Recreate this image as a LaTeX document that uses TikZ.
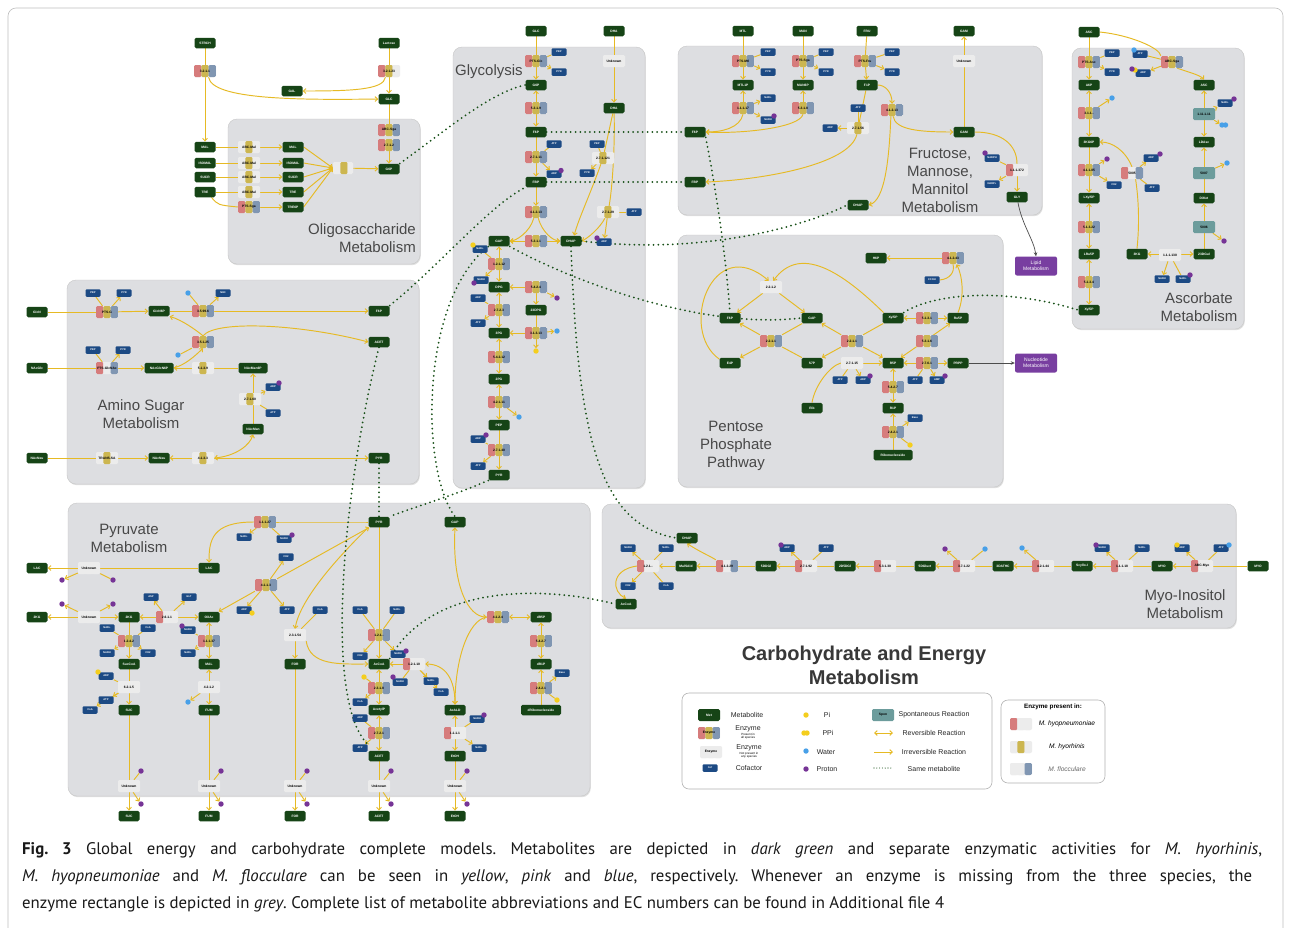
\documentclass[tikz,border=0pt]{standalone}
\usepackage{fontspec}
\setmainfont{Liberation Sans}
\newfontfamily\capfont{PT Sans}
\usetikzlibrary{arrows.meta,shadows}
\definecolor{metc}{RGB}{22,68,22}
\definecolor{cofc}{RGB}{28,74,132}
\definecolor{pkc}{RGB}{214,124,124}
\definecolor{ylc}{RGB}{204,182,80}
\definecolor{blc}{RGB}{128,150,178}
\definecolor{egc}{RGB}{236,236,236}
\definecolor{spc}{RGB}{108,156,156}
\definecolor{arc}{RGB}{230,186,36}
\definecolor{dotc}{RGB}{24,80,24}
\definecolor{panelc}{RGB}{221,222,225}
\definecolor{purc}{RGB}{118,52,150}
\definecolor{bluc}{RGB}{72,160,232}
\definecolor{yelc}{RGB}{244,206,30}
\definecolor{boxc}{RGB}{120,62,160}
\definecolor{titc}{RGB}{72,72,72}
\pgfdeclarelayer{panel}
\pgfdeclarelayer{edge}
\pgfsetlayers{panel,edge,main}
\newcommand\mf{\fontsize{3.3}{3.8}\selectfont\bfseries}
\newcommand\cf{\fontsize{2.6}{3}\selectfont\bfseries}
\newcommand\ttl{\fontsize{15}{18}\selectfont}
\tikzset{
  met/.style={fill=metc, rounded corners=1.6pt, minimum width=21pt, minimum height=10.5pt, inner sep=0.8pt, text=white, font=\mf},
  cof/.style={fill=cofc, rounded corners=1.2pt, minimum width=15pt, minimum height=7.5pt, inner sep=0.5pt, text=white, font=\cf},
  enzb/.style n args={3}{rounded corners=1.3pt, minimum width=22pt, minimum height=12pt, inner sep=0.5pt, font=\mf, text=black, fill=egc,
    path picture={
      \fill[#1] (path picture bounding box.south west) rectangle ([xshift=7.33pt]path picture bounding box.north west);
      \fill[#2] ([xshift=7.33pt]path picture bounding box.south west) rectangle ([xshift=14.67pt]path picture bounding box.north west);
      \fill[#3] ([xshift=14.67pt]path picture bounding box.south west) rectangle (path picture bounding box.north east);}},
  Epyb/.style={enzb={pkc}{ylc}{blc}},
  Epy/.style={enzb={pkc}{ylc}{egc}},
  Epb/.style={enzb={pkc}{egc}{blc}},
  Ep/.style={enzb={pkc}{egc}{egc}},
  Ey/.style={enzb={egc}{ylc}{egc}},
  Eg/.style={enzb={egc}{egc}{egc}},
  spon/.style={fill=spc, rounded corners=1.3pt, minimum width=22pt, minimum height=12pt, inner sep=0.5pt, font=\mf, text=black},
  pd/.style={circle, fill=purc, minimum size=5.4pt, inner sep=0pt},
  bd/.style={circle, fill=bluc, minimum size=5.4pt, inner sep=0pt},
  yd/.style={circle, fill=yelc, minimum size=5.4pt, inner sep=0pt},
  pbox/.style={fill=boxc, rounded corners=2pt, minimum width=42pt, minimum height=19pt, text=white, align=center, font=\fontsize{5}{5.8}\selectfont},
  panel/.style={fill=panelc, draw=gray!45, line width=0.4pt, rounded corners=9pt, drop shadow={opacity=0.25, shadow xshift=0.8pt, shadow yshift=-1.2pt}},
  ar/.style={draw=arc, line width=0.95pt, -{Straight Barb[length=2.6pt,width=4.8pt]}},
  rv/.style={draw=arc, line width=0.95pt, {Straight Barb[length=2.6pt,width=4.8pt]}-{Straight Barb[length=2.6pt,width=4.8pt]}},
  ln/.style={draw=arc, line width=0.95pt},
  sm/.style={draw=dotc, line width=2pt, dash pattern=on 0pt off 4.8pt, line cap=round},
  gar/.style={draw=gray!60!black, line width=0.7pt, -{Stealth[length=4pt,width=3.5pt]}},
  ptitle/.style={text=titc, font=\ttl, inner sep=0pt},
  lgt/.style={font=\fontsize{7}{8}\selectfont, text=black!85, inner sep=0pt},
  capt/.style={anchor=west, inner sep=0pt, font=\capfont\fontsize{16.8}{20}\selectfont\frenchspacing, text=black!90}
}
\begin{document}
\begin{tikzpicture}[x=1pt,y=-1pt]
\useasboundingbox (0,0) rectangle (1290,927);
\begin{pgfonlayer}{panel}
\fill[white] (0,0) rectangle (1290,927);
\draw[gray!50, line width=0.6pt, rounded corners=8pt] (8,8) rectangle (1283,960);
\path[panel] (228,119) rectangle (420,264);
\path[panel] (453,47) rectangle (645,488);
\path[panel] (678,46) rectangle (1042,215);
\path[panel] (1072,48) rectangle (1244,329);
\path[panel] (67,280) rectangle (419,484);
\path[panel] (678,235) rectangle (1003,487);
\path[panel] (68,503) rectangle (590,796);
\path[panel] (602,504) rectangle (1236,628);
\end{pgfonlayer}

% panel titles
\node[ptitle, anchor=east, align=right] at (416,238) {Oligosaccharide\\Metabolism};
\node[ptitle, anchor=west] at (455,72) {Glycolysis};
\node[ptitle, align=center] at (940,180) {Fructose,\\Mannose,\\Mannitol\\Metabolism};
\node[ptitle, align=center] at (1199,307) {Ascorbate\\Metabolism};
\node[ptitle, align=center] at (141,414) {Amino Sugar\\Metabolism};
\node[ptitle, align=center] at (736,446) {Pentose\\Phosphate\\Pathway};
\node[ptitle, align=center] at (129,538) {Pyruvate\\Metabolism};
\node[ptitle, align=center] at (1185,604) {Myo-Inositol\\Metabolism};
\node[text=black!78, font=\fontsize{20}{24}\selectfont\bfseries, align=center] at (864,665) {Carbohydrate and Energy\\Metabolism};

% ===== Oligosaccharide =====
\node[met] (o-strch) at (205,43) {STRCH};
\node[met] (o-lacto) at (389,43) {Lactose};
\node[Epyb] (o-e3211) at (205,71) {3.2.1.1};
\node[Epy] (o-e32123) at (389,71) {3.2.1.23};
\node[met] (o-gal) at (292,91) {GAL};
\node[met] (o-glc) at (389,99) {GLC};
\node[Epyb] (o-abc) at (389,130) {ABC-Sga};
\node[Epyb] (o-e2712) at (389,145) {2.7.1.2};
\node[met] (o-g6p) at (389,169) {G6P};
\node[met] (o-mal) at (205,147) {MAL};
\node[met] (o-isomal) at (205,163) {ISOMAL};
\node[met] (o-sucr) at (205,177) {SUCR};
\node[met] (o-tre) at (205,192) {TRE};
\node[Ey] (o-m1) at (249,147) {ABC-Mal};
\node[Ey] (o-m2) at (249,163) {ABC-Mal};
\node[Ey] (o-m3) at (249,177) {ABC-Mal};
\node[Ey] (o-m4) at (249,192) {ABC-Mal};
\node[Epyb] (o-pts) at (249,207) {PTS-Sga};
\node[met] (o-mal2) at (293,147) {MAL};
\node[met] (o-isomal2) at (293,163) {ISOMAL};
\node[met] (o-sucr2) at (293,177) {SUCR};
\node[met] (o-tre2) at (293,192) {TRE};
\node[met] (o-tre6p) at (293,207) {TRE6P};
\node[Ey, minimum width=20pt] (o-u) at (343,168) {};

% ===== Glycolysis =====
\node[met] (g-glc) at (536,31) {GLC};
\node[met] (g-dha0) at (614,31) {DHA};
\node[Epyb] (g-pts) at (536,61) {PTS-Glc};
\node[cof] (g-pep1) at (559,52) {PEP};
\node[cof] (g-pyr1) at (559,72) {PYR};
\node[met] (g-g6p) at (536,85) {G6P};
\node[Epyb] (g-e5319) at (536,108) {5.3.1.9};
\node[met] (g-f6p) at (536,132) {F6P};
\node[cof] (g-atp1) at (554,144) {ATP};
\node[Epyb] (g-e27111) at (536,157) {2.7.1.11};
\node[cof] (g-adp1) at (554,174) {ADP};
\node[pd] (g-d1) at (561,170.5) {};
\node[met] (g-fbp) at (536,182) {FBP};
\node[Epyb] (g-e41213) at (536,212) {4.1.2.13};
\node[met] (g-gap) at (499,241) {GAP};
\node[Epyb] (g-e5311) at (536,241) {5.3.1.1};
\node[met] (g-dhap) at (571,241) {DHAP};
\node[Eg] (g-unk) at (614,61) {Unknown};
\node[met] (g-dha) at (614,108) {DHA};
\node[cof] (g-pep2) at (597,144) {PEP};
\node[Ey] (g-e27121) at (603,158) {2.7.1.121};
\node[cof] (g-pyr2) at (587,173) {PYR};
\node[Ey] (g-e27129) at (608,212) {2.7.1.29};
\node[cof] (g-atp2) at (634,212) {ATP};
\node[cof] (g-adp2) at (604,242) {ADP};
\node[pd] (g-d2) at (597,238) {};
\node[cof] (g-nad1) at (480,249) {NAD+};
\node[yd] (g-d3) at (473,245) {};
\node[Epyb] (g-e12112) at (499,264) {1.2.1.12};
\node[cof] (g-nadh1) at (481,280) {NADH};
\node[pd] (g-d4) at (474,283) {};
\node[met] (g-dpg) at (499,287) {DPG};
\node[Epyb] (g-e5424) at (536,287) {5.4.2.4};
\node[cof] (g-adp3) at (478,298) {ADP};
\node[pd] (g-d5) at (557,298) {};
\node[Epyb] (g-e2723) at (499,310) {2.7.2.3};
\node[met] (g-dpg23) at (536,310) {23DPG};
\node[cof] (g-atp3) at (478,323) {ATP};
\node[met] (g-pg3) at (499,333) {3PG};
\node[Epyb] (g-e31313) at (536,333) {3.1.3.13};
\node[bd] (g-d6) at (557,331) {};
\node[yd] (g-d7) at (536,351) {};
\node[Epyb] (g-e54212) at (499,357) {5.4.2.12};
\node[met] (g-pg2) at (499,379) {2PG};
\node[Epyb] (g-e42111) at (499,402) {4.2.1.11};
\node[bd] (g-d8) at (519,417) {};
\node[met] (g-pep) at (499,425) {PEP};
\node[cof] (g-adp4) at (478,439) {ADP};
\node[pd] (g-d9) at (486,435) {};
\node[Epyb] (g-e27140) at (499,450) {2.7.1.40};
\node[cof] (g-atp4) at (478,466) {ATP};
\node[met] (g-pyr) at (499,475) {PYR};

% ===== Fructose, Mannose, Mannitol =====
\node[met] (f-mtl) at (743,31) {MTL};
\node[met] (f-man) at (803,31) {MAN};
\node[met] (f-fru) at (867,31) {FRU};
\node[met] (f-gam0) at (964,31) {GAM};
\node[Epyb] (f-ptsm) at (743,61) {PTS-Mtl};
\node[cof] (f-pep1) at (768,52) {PEP};
\node[cof] (f-pyr1) at (768,72) {PYR};
\node[Epyb] (f-ptss) at (803,61) {PTS-Sga};
\node[cof] (f-pep2) at (826,52) {PEP};
\node[cof] (f-pyr2) at (826,72) {PYR};
\node[Epyb] (f-ptsf) at (865,61) {PTS-Fru};
\node[cof] (f-pep3) at (892,52) {PEP};
\node[cof] (f-pyr3) at (892,72) {PYR};
\node[Eg] (f-unk) at (964,61) {Unknown};
\node[met] (f-mtl1p) at (743,85) {MTL1P};
\node[met] (f-man6p) at (803,85) {MAN6P};
\node[met] (f-f1p) at (867,85) {F1P};
\node[cof] (f-nad) at (768,98) {NAD+};
\node[Epyb] (f-e11117) at (743,108) {1.1.1.17};
\node[cof] (f-nadh) at (768,120) {NADH};
\node[pd] (f-d1) at (774,116) {};
\node[Epyb] (f-e5318) at (803,108) {5.3.1.8};
\node[cof] (f-atp) at (858,108) {ATP};
\node[Epyb] (f-e41213) at (892,110) {4.1.2.13};
\node[cof] (f-adp) at (830,128) {ADP};
\node[Ey] (f-e27156) at (858,128) {2.7.1.56};
\node[met] (f-f6p) at (695,132) {F6P};
\node[met] (f-gam) at (964,132) {GAM};
\node[cof] (f-nadph) at (992,158) {NADPH};
\node[pd] (f-d2) at (985,153) {};
\node[Ep] (f-e1372) at (1017,170) {1.1.1.372};
\node[cof] (f-nadp) at (992,184) {NADP+};
\node[met] (f-gly) at (1017,197) {GLY};
\node[met] (f-fbp) at (695,182) {FBP};
\node[met] (f-dhap) at (858,205) {DHAP};
\node[pbox] (lipid) at (1036,266) {Lipid\\Metabolism};

% ===== Ascorbate =====
\node[met] (a-asc0) at (1089,32) {ASC};
\node[Epyb] (a-ptsa) at (1089,62) {PTS-Asc};
\node[cof] (a-pep) at (1112,53) {PEP};
\node[cof] (a-pyr) at (1112,72) {PYR};
\node[cof] (a-atp) at (1140,54) {ATP};
\node[bd] (a-d1) at (1134,50) {};
\node[Epyb] (a-abc) at (1172,62) {ABC-Sga};
\node[cof] (a-adp) at (1143,73) {ADP};
\node[yd] (a-d2b) at (1135,70) {};
\node[pd] (a-d2) at (1132,69) {};
\node[met] (a-a6p) at (1089,85) {A6P};
\node[met] (a-asc) at (1204,85) {ASC};
\node[bd] (a-d3) at (1112,98) {};
\node[Epyb] (a-e311) at (1089,113) {3.1.1.-};
\node[cof] (a-nad) at (1225,103) {NAD+};
\node[pd] (a-d4) at (1234,99) {};
\node[spon] (a-e111111) at (1204,114) {1.11.1.11};
\node[bd] (a-d5) at (1222,125) {};
\node[bd] (a-d5b) at (1225.5,125) {};
\node[met] (a-kg6p) at (1089,142) {3KG6P};
\node[met] (a-ldasc) at (1204,142) {LDAsc};
\node[pd] (a-d6) at (1107,159) {};
\node[cof] (a-adp2) at (1151,158) {ADP};
\node[pd] (a-d7) at (1160,154) {};
\node[Epyb] (a-e41185) at (1089,170) {4.1.1.85};
\node[Epb] (a-e5005) at (1132,173) {5005};
\node[spon] (a-e5007) at (1204,173) {5007};
\node[bd] (a-d8) at (1227,163) {};
\node[cof] (a-co2) at (1114,185) {CO2};
\node[cof] (a-atp2) at (1152,188) {ATP};
\node[met] (a-diket) at (1204,198) {DiKet};
\node[met] (a-lxyl) at (1089,198) {LXyl5P};
\node[Epyb] (a-e51322) at (1089,227) {5.1.3.22};
\node[spon] (a-e5006) at (1204,227) {5006};
\node[pd] (a-d9) at (1224,241) {};
\node[met] (a-lrul) at (1089,254) {LRu5P};
\node[met] (a-kg) at (1137,254) {3KG};
\node[Eg] (a-e11130) at (1170,255) {1.1.1.130};
\node[met] (a-dgul) at (1204,254) {23DGul};
\node[cof] (a-nadh) at (1162,279) {NADH};
\node[cof] (a-nad2) at (1183,279) {NAD+};
\node[pd] (a-d10) at (1190,275) {};
\node[Epyb] (a-e5134) at (1089,282) {5.1.3.4};
\node[met] (a-xyl) at (1089,310) {Xyl5P};

% ===== Amino sugar =====
\node[met] (m-glcn) at (37,312) {GlcN};
\node[Epyb] (m-ptsg) at (107,312) {PTS-G};
\node[cof] (m-pep1) at (93,293) {PEP};
\node[cof] (m-pyr1) at (124,293) {PYR};
\node[met] (m-glcn6p) at (159,311) {GlcN6P};
\node[Epyb] (m-e35996) at (203,311) {3.5.99.6};
\node[bd] (m-d1) at (188,293) {};
\node[cof] (m-nh3) at (223,293) {NH3};
\node[met] (m-f6p) at (379,311) {F6P};
\node[Epyb] (m-e35125) at (203,342) {3.5.1.25};
\node[bd] (m-d2) at (178,355) {};
\node[met] (m-acet) at (379,342) {ACET};
\node[met] (m-nacglc) at (37,368) {NAcGlc};
\node[Epb] (m-ptsn) at (107,368) {PTS-GlcNAc};
\node[cof] (m-pep2) at (93,350) {PEP};
\node[cof] (m-pyr2) at (123,350) {PYR};
\node[met, minimum width=29pt] (m-nacglcn6p) at (159,368) {NAcGlcN6P};
\node[Ey] (m-e5139) at (203,368) {5.1.3.9};
\node[met, minimum width=29pt] (m-nacman6p) at (253,368) {NAcMan6P};
\node[cof] (m-adp) at (273,387) {ADP};
\node[pd] (m-d3) at (279,383) {};
\node[Ey] (m-e27160) at (250,399) {2.7.1.60};
\node[cof] (m-atp) at (273,413) {ATP};
\node[met] (m-nacman) at (253,429) {NAcMan};
\node[met] (m-nacneu0) at (37,458) {NAcNeu};
\node[Ey] (m-trans) at (107,458) {TRANS-SA};
\node[met] (m-nacneu) at (159,458) {NAcNeu};
\node[Ey] (m-e4133) at (203,458) {4.1.3.3};
\node[met] (m-pyr) at (379,458) {PYR};

% ===== Pentose phosphate =====
\node[met] (p-h6p) at (876,258) {H6P};
\node[Epyb] (p-e41243) at (953,258) {4.1.2.43};
\node[cof] (p-fcoh) at (932,280) {FCOH};
\node[Eg] (p-e2212) at (771,287) {2.2.1.2};
\node[met] (p-f6p) at (730,318) {F6P};
\node[met] (p-gap) at (812,318) {GAP};
\node[met] (p-xyl) at (893,318) {Xyl5P};
\node[Epyb] (p-e5131) at (927,318) {5.1.3.1};
\node[met] (p-ru5p) at (958,318) {Ru5P};
\node[Epyb] (p-e2211a) at (771,341) {2.2.1.1};
\node[Epyb] (p-e2211b) at (852,341) {2.2.1.1};
\node[Epyb] (p-e5316) at (927,341) {5.3.1.6};
\node[met] (p-e4p) at (730,363) {E4P};
\node[met] (p-s7p) at (812,363) {S7P};
\node[Eg] (p-e27115) at (852,363) {2.7.1.15};
\node[met] (p-r5p) at (893,363) {R5P};
\node[Epyb] (p-e2761) at (927,363) {2.7.6.1};
\node[met] (p-prpp) at (958,363) {PRPP};
\node[pbox] (nuc) at (1036,363) {Nucleotide\\Metabolism};
\node[cof] (p-atp) at (840,380) {ATP};
\node[cof] (p-adp) at (863,380) {ADP};
\node[pd] (p-d1) at (870,376) {};
\node[cof] (p-atp2) at (915,380) {ATP};
\node[cof] (p-amp) at (937,380) {AMP};
\node[pd] (p-d2) at (945,376) {};
\node[Epyb] (p-e5427) at (893,387) {5.4.2.7};
\node[met] (p-rib) at (812,408) {Rib};
\node[met] (p-r1p) at (893,408) {R1P};
\node[cof] (p-base) at (915,418) {Base};
\node[Epyb] (p-e2421) at (893,432) {2.4.2.1};
\node[yd] (p-d3) at (910,445) {};
\node[met, minimum width=39pt] (p-ribn) at (893,455) {Ribonucleoside};

% ===== Pyruvate =====
\node[met] (y-lacx) at (37,568) {LAC};
\node[Eg] (y-unk1) at (89,568) {Unknown};
\node[pd] (y-d1) at (62,580) {};
\node[pd] (y-d2) at (113,580) {};
\node[met] (y-lac) at (209,568) {LAC};
\node[Epyb] (y-e11127) at (265,522) {1.1.1.27};
\node[cof] (y-nad1) at (244,537) {NAD+};
\node[cof] (y-nadh1) at (284,539) {NADH};
\node[pd] (y-d3) at (292,535) {};
\node[cof] (y-co2a) at (286,557) {CO2};
\node[Epyb] (y-e4113) at (266,585) {4.1.1.3};
\node[cof] (y-adp1) at (244,610) {ADP};
\node[yd] (y-d4) at (252,613) {};
\node[cof] (y-atp1) at (287,610) {ATP};
\node[met] (y-kgx) at (37,617) {2KG};
\node[Eg] (y-unk2) at (89,617) {Unknown};
\node[pd] (y-d5) at (62,604) {};
\node[pd] (y-d6) at (113,604) {};
\node[met] (y-kg) at (129,617) {2KG};
\node[cof] (y-asp) at (151,597) {ASP};
\node[cof] (y-glt) at (189,597) {GLT};
\node[Ep] (y-e2611) at (167,617) {2.6.1.1};
\node[met] (y-oxac) at (209,617) {OXAc};
\node[cof] (y-nad2) at (107,628) {NAD+};
\node[cof] (y-coa1) at (148,628) {CoA};
\node[cof] (y-nadh2) at (188,630) {NADH};
\node[pd] (y-d7) at (182,626) {};
\node[Epyb] (y-e1242) at (129,641) {1.2.4.2};
\node[Epyb] (y-e11137) at (209,641) {1.1.1.37};
\node[cof] (y-nadh3) at (107,653) {NADH};
\node[cof] (y-co2b) at (148,653) {CO2};
\node[cof] (y-nad3) at (188,653) {NAD+};
\node[met] (y-succoa) at (129,664) {SucCoA};
\node[met] (y-mal) at (209,664) {MAL};
\node[cof] (y-adp2) at (106,676) {ADP};
\node[yd] (y-d8) at (98,672) {};
\node[Eg] (y-e6215) at (129,687) {6.2.1.5};
\node[Eg] (y-e4212) at (209,687) {4.2.1.2};
\node[cof] (y-atp2) at (106,700) {ATP};
\node[cof] (y-coa2) at (90,710) {CoA};
\node[bd] (y-d9) at (188,702) {};
\node[met] (y-suc) at (129,710) {SUC};
\node[met] (y-fum) at (209,710) {FUM};
\node[Eg] (y-unk3) at (129,786) {Unknown};
\node[pd] (y-d10) at (141,771) {};
\node[pd] (y-d11) at (141,804) {};
\node[Eg] (y-unk4) at (209,786) {Unknown};
\node[pd] (y-d12) at (221,771) {};
\node[pd] (y-d13) at (221,804) {};
\node[met] (y-sucx) at (129,816) {SUC};
\node[met] (y-fumx) at (209,816) {FUM};
\node[Eg] (y-e23154) at (295,635) {2.3.1.54};
\node[met] (y-for) at (295,664) {FOR};
\node[Eg] (y-unk5) at (295,786) {Unknown};
\node[pd] (y-d14) at (307,771) {};
\node[pd] (y-d15) at (307,804) {};
\node[met] (y-forx) at (295,816) {FOR};
\node[met] (y-pyr) at (379,522) {PYR};
\node[met] (y-gap) at (455,522) {GAP};
\node[cof] (y-coa3) at (320,610) {CoA};
\node[cof] (y-coa4) at (360,610) {CoA};
\node[cof] (y-nad4) at (397,610) {NAD+};
\node[Epyb] (y-e121) at (379,635) {1.2.1.-};
\node[cof] (y-co2c) at (360,656) {CO2};
\node[cof] (y-nadh4) at (398,654) {NADH};
\node[pd] (y-d16) at (406,651) {};
\node[met] (y-accoa) at (379,664) {AcCoA};
\node[Ep] (y-e12110) at (414,664) {1.2.1.10};
\node[cof] (y-nadh5) at (400,682) {NADH};
\node[pd] (y-d17) at (393,677) {};
\node[cof] (y-nad5) at (431,681) {NAD+};
\node[cof] (y-coa5) at (441,692) {CoA};
\node[yd] (y-d18) at (364,677) {};
\node[Epyb] (y-e2318) at (379,688) {2.3.1.8};
\node[cof] (y-coa6) at (360,702) {CoA};
\node[met] (y-acetp) at (379,710) {AcetylP};
\node[cof] (y-adp3) at (360,718) {ADP};
\node[Epyb] (y-e2721) at (379,733) {2.7.2.1};
\node[cof] (y-atp3) at (360,748) {ATP};
\node[met] (y-acet) at (379,756) {ACET};
\node[met] (y-acald) at (455,710) {AcALD};
\node[cof] (y-nadh6) at (477,719) {NADH};
\node[pd] (y-d19) at (484,715) {};
\node[Ep] (y-e1111) at (455,733) {1.1.1.1};
\node[cof] (y-nad6) at (479,748) {NAD+};
\node[met] (y-etoh) at (455,756) {EtOH};
\node[Eg] (y-unk6) at (379,786) {Unknown};
\node[pd] (y-d20) at (391,771) {};
\node[pd] (y-d21) at (391,804) {};
\node[Eg] (y-unk7) at (455,786) {Unknown};
\node[pd] (y-d22) at (467,771) {};
\node[pd] (y-d23) at (467,804) {};
\node[met] (y-acetx) at (379,816) {ACET};
\node[met] (y-etohx) at (455,816) {EtOH};
\node[Epyb] (y-e4124) at (498,617) {4.1.2.4};
\node[met] (y-dr5p) at (541,617) {dR5P};
\node[Epyb] (y-e5427) at (541,641) {5.4.2.7};
\node[met] (y-dr1p) at (541,664) {dR1P};
\node[cof] (y-base) at (562,673) {Base};
\node[Epyb] (y-e2421) at (541,688) {2.4.2.1};
\node[yd] (y-d24) at (557,700) {};
\node[met, minimum width=40pt] (y-drib) at (541,710) {dRibonucleoside};

% ===== Myo-inositol =====
\node[met] (i-dhap) at (687,538) {DHAP};
\node[cof] (i-nadh) at (628,548) {NADH};
\node[cof] (i-nad) at (666,548) {NAD+};
\node[Ep] (i-e121) at (648,566) {1.2.1.-};
\node[met] (i-malsald) at (686,566) {MalSAld};
\node[Epb] (i-e41229) at (727,566) {4.1.2.29};
\node[met] (i-ddgl) at (766,566) {5DDGl};
\node[cof] (i-adp) at (787,548) {ADP};
\node[pd] (i-d1) at (781,545) {};
\node[cof] (i-atp) at (826,548) {ATP};
\node[Ep] (i-e27192) at (806,566) {2.7.1.92};
\node[met] (i-d5dgl) at (845,566) {2D5DGl};
\node[Ep] (i-e53130) at (885,566) {5.3.1.30};
\node[met] (i-dgluct) at (925,566) {5DGluct};
\node[pd] (i-d2) at (945,549) {};
\node[bd] (i-d3) at (985,549) {};
\node[Ep] (i-e37122) at (964,566) {3.7.1.22};
\node[met] (i-dathc) at (1003,566) {3DATHC};
\node[bd] (i-d4) at (1022,548) {};
\node[Ep] (i-e42144) at (1043,566) {4.2.1.44};
\node[met] (i-scyllo) at (1082,566) {Scyllo-I};
\node[cof] (i-nadh2) at (1102,548) {NADH};
\node[pd] (i-d5) at (1096,545) {};
\node[cof] (i-nad2) at (1142,548) {NAD+};
\node[Ep] (i-e11118) at (1122,566) {1.1.1.18};
\node[met] (i-myo) at (1162,566) {MYO};
\node[cof] (i-adp2) at (1182,548) {ADP};
\node[yd] (i-d6) at (1177,545) {};
\node[cof] (i-atp2) at (1221,548) {ATP};
\node[bd] (i-d7) at (1229,545) {};
\node[Ep] (i-abc) at (1202,566) {ABC-Myo};
\node[met] (i-myox) at (1258,566) {MYO};
\node[cof] (i-co2) at (628,586) {CO2};
\node[cof] (i-coa) at (666,586) {CoA};
\node[met] (i-accoa) at (626,604) {AcCoA};

% ===== Legend =====
\draw[gray!60, line width=0.6pt, rounded corners=7pt, fill=white] (682,693) rectangle (992,789);
\draw[gray!60, line width=0.6pt, rounded corners=7pt, fill=white] (1001,700) rectangle (1105,783);
\node[met, minimum width=22pt, minimum height=12pt] (l-met) at (709,715) {Met};
\node[lgt] at (747,715) {Metabolite};
\node[Epyb] (l-enz) at (709,733) {Enzyme};
\node[lgt] at (748,729) {Enzyme};
\node[font=\fontsize{3}{3.4}\selectfont, align=center, inner sep=0pt] at (748,736.5) {Present in\\all species};
\node[Eg] (l-enzg) at (711,752) {Enzyme};
\node[lgt] at (749,748) {Enzyme};
\node[font=\fontsize{3}{3.4}\selectfont, align=center, inner sep=0pt] at (749,755.5) {Not present in\\any species};
\node[cof] (l-cof) at (710,768) {Cof};
\node[lgt] at (749,768) {Cofactor};
\node[yd] (l-pi) at (806,715) {};
\node[lgt] at (827,715) {Pi};
\node[yd] (l-ppi) at (804,733) {};
\node[yd] (l-ppi2) at (807,733) {};
\node[lgt] at (828,733) {PPi};
\node[bd] (l-w) at (806,751) {};
\node[lgt] at (826,752) {Water};
\node[pd] (l-pr) at (806,769) {};
\node[lgt] at (827,769) {Proton};
\node[spon] (l-spon) at (883,715) {Spon};
\node[lgt] at (934,715) {Spontaneous Reaction};
\coordinate (l-r1) at (874,733); \coordinate (l-r2) at (893,733);
\coordinate (l-i1) at (874,752); \coordinate (l-i2) at (893,752);
\coordinate (l-s1) at (874,768); \coordinate (l-s2) at (893,768);
\draw[rv] (l-r1) -- (l-r2);
\draw[ar] (l-i1) -- (l-i2);
\draw[draw=dotc, line width=1.1pt, dash pattern=on 0pt off 2.8pt, line cap=round] (l-s1) -- (l-s2);
\node[lgt] at (934,733) {Reversible Reaction};
\node[lgt] at (934,752) {Irreversible Reaction};
\node[lgt] at (934,769) {Same metabolite};
\node[font=\fontsize{6.3}{7}\selectfont\bfseries, inner sep=0pt] at (1053,707) {Enzyme present in:};
\node[Ep] (l-s-p) at (1021,724) {};
\node[Ey] (l-s-y) at (1021,747) {};
\node[enzb={egc}{egc}{blc}] (l-s-b) at (1021,769) {};
\node[font=\fontsize{6.6}{7.5}\selectfont\itshape, inner sep=0pt] at (1067,724) {M. hyopneumoniae};
\node[font=\fontsize{6.6}{7.5}\selectfont\itshape, inner sep=0pt] at (1067,747) {M. hyorhinis};
\node[font=\fontsize{6.6}{7.5}\selectfont\itshape, inner sep=0pt, text=black!60] at (1067,769) {M. flocculare};

% ===== Caption =====
\node[capt] at (22,850) {\makebox[1240pt][s]{\textbf{Fig. 3} Global energy and carbohydrate complete models. Metabolites are depicted in \textit{dark green} and separate enzymatic activities for \textit{M. hyorhinis},}};
\node[capt] at (22,877) {\makebox[1230pt][s]{\textit{M. hyopneumoniae} and \textit{M. flocculare} can be seen in \textit{yellow}, \textit{pink} and \textit{blue}, respectively. Whenever an enzyme is missing from the three species, the}};
\node[capt] at (22,904) {enzyme rectangle is depicted in \textit{grey}. Complete list of metabolite abbreviations and EC numbers can be found in Additional file 4};

% ===== Edges =====
\begin{pgfonlayer}{edge}
% oligo
\draw[ln] (o-strch) -- (o-e3211);
\draw[ar] (o-e3211) -- (o-mal);
\draw[ar] (o-e3211.-60) .. controls (212,100) and (300,100) .. (o-glc.west);
\draw[ln] (o-lacto) -- (o-e32123);
\draw[ar] (o-e32123) -- (o-glc);
\draw[ar] (o-e32123.-120) .. controls (384,90) and (350,91) .. (o-gal.east);
\draw[ln] (o-glc) -- (o-abc);
\draw[ar] (o-e2712) -- (o-g6p);
\draw[ln] (o-mal) -- (o-m1); \draw[ar] (o-m1) -- (o-mal2);
\draw[ln] (o-isomal) -- (o-m2); \draw[ar] (o-m2) -- (o-isomal2);
\draw[ln] (o-sucr) -- (o-m3); \draw[ar] (o-m3) -- (o-sucr2);
\draw[ln] (o-tre) -- (o-m4); \draw[ar] (o-m4) -- (o-tre2);
\draw[ln] (o-tre.-40) .. controls (218,205) .. (o-pts.west);
\draw[ar] (o-pts) -- (o-tre6p);
\draw[ar] (o-mal2.east) -- (o-u.west);
\draw[ar] (o-isomal2.east) -- (o-u.west);
\draw[ar] (o-sucr2.east) -- (o-u.west);
\draw[ar] (o-tre2.east) -- (o-u.west);
\draw[ar] (o-tre6p.east) -- (o-u.west);
\draw[ar] (o-u) -- (o-g6p);
% glycolysis
\draw[ln] (g-glc) -- (g-pts); \draw[ar] (g-pts) -- (g-g6p);
\draw[ln] (g-pep1) -- (g-pts); \draw[ar] (g-pts) -- (g-pyr1);
\draw[rv] (g-g6p) -- (g-f6p);
\draw[ar] (g-f6p) -- (g-fbp);
\draw[ln] (g-atp1) -- (g-e27111); \draw[ar] (g-e27111) -- (g-adp1);
\draw[ar] (g-fbp) -- (g-e41213);
\draw[ar] (g-e41213.-110) .. controls (530,232) and (516,241) .. (g-gap.east);
\draw[ar] (g-e41213.-70) .. controls (542,232) and (553,241) .. (g-dhap.west);
\draw[rv] (g-gap) -- (g-dhap);
\draw[ln] (g-dha0) -- (g-unk); \draw[ar] (g-unk) -- (g-dha);
\draw[ln] (g-dha) -- (g-e27121);
\draw[ln] (g-dha) .. controls (615,150) and (612,190) .. (g-e27129);
\draw[ar] (g-e27121) .. controls (590,195) and (578,220) .. (g-dhap.60);
\draw[ar] (g-e27129) .. controls (600,228) and (588,238) .. (g-dhap.east);
\draw[ln] (g-pep2) -- (g-e27121); \draw[ar] (g-e27121) -- (g-pyr2);
\draw[ln] (g-atp2) -- (g-e27129); \draw[ar] (g-e27129) -- (g-adp2);
\draw[rv] (g-gap) -- (g-dpg);
\draw[ln] (g-nad1) -- (g-e12112); \draw[ar] (g-e12112) -- (g-nadh1);
\draw[rv] (g-dpg) -- (g-pg3);
\draw[ln] (g-adp3) -- (g-e2723); \draw[ar] (g-e2723) -- (g-atp3);
\draw[ar] (g-e5424) -- (g-dpg); \draw[ar] (g-e5424) -- (g-dpg23); \draw[ar] (g-e5424) -- (g-d5);
\draw[ln] (g-dpg23) -- (g-e31313);
\draw[ar] (g-e31313) -- (g-pg3); \draw[ar] (g-e31313) -- (g-d6); \draw[ar] (g-e31313) -- (g-d7);
\draw[rv] (g-pg3) -- (g-pg2);
\draw[rv] (g-pg2) -- (g-pep);
\draw[ar] (g-e42111) -- (g-d8);
\draw[ar] (g-pep) -- (g-pyr);
\draw[ln] (g-adp4) -- (g-e27140); \draw[ar] (g-e27140) -- (g-atp4);
% fructose
\draw[ln] (f-mtl) -- (f-ptsm); \draw[ar] (f-ptsm) -- (f-mtl1p);
\draw[ln] (f-pep1) -- (f-ptsm); \draw[ar] (f-ptsm) -- (f-pyr1);
\draw[ln] (f-man) -- (f-ptss); \draw[ar] (f-ptss) -- (f-man6p);
\draw[ln] (f-pep2) -- (f-ptss); \draw[ar] (f-ptss) -- (f-pyr2);
\draw[ln] (f-fru) -- (f-ptsf); \draw[ar] (f-ptsf) -- (f-f1p);
\draw[ln] (f-pep3) -- (f-ptsf); \draw[ar] (f-ptsf) -- (f-pyr3);
\draw[ar] (f-e11117) -- (f-mtl1p); \draw[ar] (f-e11117) -- (f-nad); \draw[ar] (f-e11117) -- (f-nadh);
\draw[ar] (f-e11117.-90) .. controls (740,128) and (722,132) .. (f-f6p.east);
\draw[ar] (f-e5318) -- (f-man6p);
\draw[ar] (f-e5318.-90) .. controls (800,128) and (740,134) .. (f-f6p.east);
\draw[ln] (f-f1p) -- (f-e27156);
\draw[ln] (f-atp) -- (f-e27156); \draw[ar] (f-e27156) -- (f-adp);
\draw[ar] (f-e27156.-100) .. controls (850,165) and (760,180) .. (f-fbp.east);
\draw[ar] (f-f1p.east) .. controls (885,85) and (892,92) .. (f-e41213.north);
\draw[ar] (f-e41213.-80) .. controls (895,130) and (920,132) .. (f-gam.west);
\draw[ar] (f-e41213.-100) .. controls (889,160) and (885,200) .. (f-dhap.east);
\draw[ln] (f-gam) -- (f-unk); \draw[ar] (f-unk) -- (f-gam0);
\draw[ln] (f-gam.east) .. controls (1002,132) and (1017,145) .. (f-e1372.north);
\draw[ln] (f-nadph) -- (f-e1372); \draw[ar] (f-e1372) -- (f-nadp); \draw[ar] (f-e1372) -- (f-gly);
\draw[gar] (f-gly.-80) .. controls (1022,225) and (1034,240) .. (lipid.north);
% ascorbate
\draw[ln] (a-asc0) -- (a-ptsa); \draw[ar] (a-ptsa) -- (a-a6p);
\draw[ln] (a-pep) -- (a-ptsa); \draw[ar] (a-ptsa) -- (a-pyr);
\draw[ln] (a-asc0.east) .. controls (1130,35) and (1160,48) .. (a-abc.north west);
\draw[ln] (a-atp) -- (a-abc); \draw[ar] (a-abc) -- (a-adp);
\draw[ar] (a-abc.-50) .. controls (1188,72) and (1200,75) .. (a-asc.north);
\draw[rv] (a-a6p) -- (a-kg6p); \draw[ar] (a-e311) -- (a-d3);
\draw[ar] (a-kg6p) -- (a-lxyl); \draw[ar] (a-e41185) -- (a-d6); \draw[ar] (a-e41185) -- (a-co2);
\draw[rv] (a-lxyl) -- (a-lrul); \draw[rv] (a-lrul) -- (a-xyl);
\draw[rv] (a-asc) -- (a-ldasc); \draw[ar] (a-e111111) -- (a-nad); \draw[ar] (a-e111111) -- (a-d5);
\draw[ar] (a-diket) -- (a-ldasc); \draw[ar] (a-e5007) -- (a-d8);
\draw[ar] (a-dgul) -- (a-diket); \draw[ar] (a-e5006) -- (a-d9);
\draw[rv] (a-kg) -- (a-dgul); \draw[ar] (a-e11130) -- (a-nadh); \draw[ln] (a-nad2) -- (a-e11130);
\draw[ln] (a-kg.north) .. controls (1140,220) and (1138,195) .. (a-e5005.-60);
\draw[ar] (a-e5005.north) .. controls (1125,150) and (1112,142) .. (a-kg6p.east);
\draw[ln] (a-atp2) -- (a-e5005); \draw[ar] (a-e5005) -- (a-adp2);
% amino sugar
\draw[ln] (m-glcn) -- (m-ptsg); \draw[ar] (m-ptsg) -- (m-glcn6p);
\draw[ln] (m-pep1) -- (m-ptsg); \draw[ar] (m-ptsg) -- (m-pyr1);
\draw[ar] (m-glcn6p) -- (m-f6p);
\draw[ln] (m-d1) -- (m-e35996); \draw[ar] (m-e35996) -- (m-nh3);
\draw[ln] (m-nacglc) -- (m-ptsn); \draw[ar] (m-ptsn) -- (m-nacglcn6p);
\draw[ln] (m-pep2) -- (m-ptsn); \draw[ar] (m-ptsn) -- (m-pyr2);
\draw[ar] (m-nacglcn6p.east) .. controls (185,365) and (195,356) .. (m-e35125.south);
\draw[ln] (m-d2) .. controls (186,352) .. (m-e35125.south west);
\draw[ar] (m-e35125.north) .. controls (196,330) and (182,320) .. (m-glcn6p.south east);
\draw[ar] (m-e35125.north) .. controls (216,320) and (300,324) .. (m-acet.west);
\draw[ar] (m-nacman6p) -- (m-nacglcn6p);
\draw[ar] (m-nacman) -- (m-nacman6p);
\draw[ln] (m-atp) -- (m-e27160); \draw[ar] (m-e27160) -- (m-adp);
\draw[ln] (m-nacneu0) -- (m-trans); \draw[ar] (m-trans) -- (m-nacneu);
\draw[ar] (m-e4133) -- (m-nacneu); \draw[ar] (m-e4133) -- (m-pyr);
\draw[rv] (m-e4133.east) .. controls (236,456) and (250,445) .. (m-nacman.south);
% pentose
\draw[ar] (p-e41243) -- (p-h6p);
\draw[ln] (p-fcoh.east) .. controls (950,279) and (955,272) .. (p-e41243.south);
\draw[ar] (p-ru5p.north) .. controls (965,295) and (962,275) .. (p-e41243.-60);
\draw[rv] (p-xyl) -- (p-ru5p);
\draw[rv] (p-ru5p) -- (p-r5p);
\draw[rv] (p-r5p) -- (p-prpp);
\draw[ln] (p-atp2) -- (p-e2761); \draw[ar] (p-e2761) -- (p-amp);
\draw[gar] (p-prpp) -- (nuc);
\draw[rv] (p-r5p) -- (p-r1p);
\draw[ln] (p-ribn) -- (p-e2421); \draw[ar] (p-e2421) -- (p-r1p); \draw[ar] (p-e2421) -- (p-base); \draw[ln] (p-d3) -- (p-e2421);
\draw[ln] (p-rib.north) .. controls (815,385) and (830,366) .. (p-e27115.west);
\draw[ar] (p-e27115) -- (p-r5p); \draw[ln] (p-atp) -- (p-e27115); \draw[ar] (p-e27115) -- (p-adp);
\draw[ar] (p-e2212) -- (p-f6p); \draw[ar] (p-e2212) -- (p-gap);
\draw[ar] (p-e4p.160) .. controls (678,330) and (712,232) .. (p-e2212.110);
\draw[ar] (p-xyl.150) .. controls (842,272) and (800,244) .. (p-e2212.70);
\draw[ar] (p-e2211a) -- (p-f6p); \draw[ln] (p-gap) -- (p-e2211a);
\draw[ar] (p-e2211a) -- (p-e4p); \draw[ln] (p-e2211a) -- (p-s7p);
\draw[ar] (p-e2211b) -- (p-gap); \draw[ar] (p-e2211b) -- (p-s7p);
\draw[ln] (p-xyl) -- (p-e2211b); \draw[ar] (p-e2211b) -- (p-r5p);
% pyruvate
\draw[ln] (y-lac) -- (y-unk1); \draw[ar] (y-unk1) -- (y-lacx);
\draw[ar] (y-unk1) -- (y-d1); \draw[ln] (y-d2) -- (y-unk1);
\draw[ln] (y-pyr.west) .. controls (330,522) .. (y-e11127.east);
\draw[ar] (y-e11127.west) .. controls (212,522) and (209,540) .. (y-lac.north);
\draw[ln] (y-nadh1) -- (y-e11127); \draw[ar] (y-e11127) -- (y-nad1);
\draw[ar] (y-e4113) -- (y-pyr);
\draw[ar] (y-e4113) -- (y-co2a);
\draw[ar] (y-e4113) -- (y-oxac);
\draw[ar] (y-e4113) -- (y-adp1); \draw[ar] (y-e4113) -- (y-atp1);
\draw[ar] (y-pyr.south west) .. controls (335,560) and (300,600) .. (y-e23154.north);
\draw[rv] (y-kg) -- (y-oxac); \draw[ar] (y-e2611) -- (y-asp); \draw[ar] (y-e2611) -- (y-glt);
\draw[rv] (y-kgx) -- (y-kg);
\draw[ar] (y-unk2) -- (y-d5); \draw[ar] (y-unk2) -- (y-d6);
\draw[ar] (y-kg) -- (y-succoa);
\draw[ln] (y-nad2) -- (y-e1242); \draw[ln] (y-coa1) -- (y-e1242);
\draw[ar] (y-e1242) -- (y-nadh3); \draw[ar] (y-e1242) -- (y-co2b);
\draw[rv] (y-oxac) -- (y-mal);
\draw[ln] (y-nadh2) -- (y-e11137); \draw[ar] (y-e11137) -- (y-nad3);
\draw[ar] (y-succoa) -- (y-suc);
\draw[ln] (y-adp2) -- (y-e6215); \draw[ar] (y-e6215) -- (y-atp2); \draw[ar] (y-e6215) -- (y-coa2);
\draw[rv] (y-mal) -- (y-fum); \draw[ar] (y-e4212) -- (y-d9);
\draw[ln] (y-suc) -- (y-unk3); \draw[ar] (y-unk3) -- (y-sucx);
\draw[ln] (y-d10) -- (y-unk3); \draw[ar] (y-unk3) -- (y-d11);
\draw[ln] (y-fum) -- (y-unk4); \draw[ar] (y-unk4) -- (y-fumx);
\draw[ln] (y-d12) -- (y-unk4); \draw[ar] (y-unk4) -- (y-d13);
\draw[ar] (y-e23154) -- (y-for);
\draw[ar] (y-e23154.south east) .. controls (310,666) and (340,664) .. (y-accoa.west);
\draw[ln] (y-coa3) -- (y-e23154);
\draw[ln] (y-for) -- (y-unk5); \draw[ar] (y-unk5) -- (y-forx);
\draw[ln] (y-d14) -- (y-unk5); \draw[ar] (y-unk5) -- (y-d15);
\draw[ar] (y-pyr) -- (y-accoa);
\draw[ln] (y-coa4) -- (y-e121); \draw[ln] (y-nad4) -- (y-e121);
\draw[ar] (y-e121) -- (y-co2c); \draw[ar] (y-e121) -- (y-nadh4);
\draw[ar] (y-e12110) -- (y-accoa);
\draw[rv] (y-e12110.east) .. controls (446,664) and (455,680) .. (y-acald.north);
\draw[ln] (y-nadh5) -- (y-e12110); \draw[ar] (y-e12110) -- (y-nad5); \draw[ar] (y-e12110) -- (y-coa5);
\draw[rv] (y-accoa) -- (y-acetp);
\draw[ln] (y-d18) -- (y-e2318); \draw[ar] (y-e2318) -- (y-coa6);
\draw[rv] (y-acetp) -- (y-acet);
\draw[ln] (y-adp3) -- (y-e2721); \draw[ar] (y-e2721) -- (y-atp3);
\draw[ln] (y-acet) -- (y-unk6); \draw[ar] (y-unk6) -- (y-acetx);
\draw[ln] (y-d20) -- (y-unk6); \draw[ar] (y-unk6) -- (y-d21);
\draw[rv] (y-acald) -- (y-etoh);
\draw[ln] (y-nadh6) -- (y-e1111); \draw[ar] (y-e1111) -- (y-nad6);
\draw[ln] (y-etoh) -- (y-unk7); \draw[ar] (y-unk7) -- (y-etohx);
\draw[ln] (y-d22) -- (y-unk7); \draw[ar] (y-unk7) -- (y-d23);
\draw[rv] (y-gap.south) .. controls (452,585) and (468,617) .. (y-e4124.west);
\draw[ar] (y-e4124.west) .. controls (468,620) and (455,660) .. (y-acald.north);
\draw[rv] (y-e4124) -- (y-dr5p);
\draw[rv] (y-dr5p) -- (y-dr1p);
\draw[ln] (y-drib) -- (y-e2421); \draw[ar] (y-e2421) -- (y-dr1p); \draw[ar] (y-e2421) -- (y-base); \draw[ln] (y-d24) -- (y-e2421);
% myo-inositol
\draw[ln] (i-myox) -- (i-abc); \draw[ar] (i-abc) -- (i-myo);
\draw[ln] (i-atp2) -- (i-abc); \draw[ar] (i-abc) -- (i-adp2);
\draw[ar] (i-myo) -- (i-scyllo);
\draw[ln] (i-nad2) -- (i-e11118); \draw[ar] (i-e11118) -- (i-nadh2);
\draw[ar] (i-scyllo) -- (i-dathc); \draw[ar] (i-e42144) -- (i-d4);
\draw[ar] (i-dathc) -- (i-dgluct);
\draw[ln] (i-d3) -- (i-e37122); \draw[ar] (i-e37122) -- (i-d2);
\draw[ar] (i-dgluct) -- (i-d5dgl);
\draw[ar] (i-d5dgl) -- (i-ddgl);
\draw[ln] (i-atp) -- (i-e27192); \draw[ar] (i-e27192) -- (i-adp);
\draw[ar] (i-ddgl) -- (i-malsald);
\draw[ar] (i-e41229.north west) .. controls (710,556) and (700,552) .. (i-dhap.south);
\draw[ar] (i-malsald) -- (i-e121);
\draw[ln] (i-nad) -- (i-e121); \draw[ar] (i-e121) -- (i-nadh);
\draw[ln] (i-coa) -- (i-e121); \draw[ar] (i-e121) -- (i-co2);
\draw[ar] (i-e121.west) .. controls (610,570) and (612,592) .. (i-accoa.north);
% same-metabolite links
\draw[sm] (o-g6p.north east) .. controls (440,135) and (490,92) .. (g-g6p.west);
\draw[sm] (g-f6p) -- (f-f6p);
\draw[sm] (g-fbp) -- (f-fbp);
\draw[sm] (m-f6p.north east) .. controls (440,265) and (490,205) .. (g-fbp.south west);
\draw[sm] (m-acet.south) .. controls (345,480) and (322,700) .. (y-atp3.north east);
\draw[sm] (m-pyr) -- (y-pyr);
\draw[sm] (g-pyr.south west) .. controls (455,495) and (420,505) .. (y-pyr.north east);
\draw[sm] (g-gap.south west) .. controls (420,300) and (420,470) .. (y-gap.north);
\draw[sm] (g-gap.south east) .. controls (570,280) and (700,330) .. (p-gap.west);
\draw[sm] (g-dhap.east) .. controls (700,255) and (800,228) .. (f-dhap.west);
\draw[sm] (g-dhap.south) .. controls (578,440) and (600,525) .. (i-dhap.west);
\draw[sm] (f-f6p.south east) .. controls (718,200) and (726,260) .. (p-f6p.north);
\draw[sm] (p-xyl.north east) .. controls (930,295) and (1000,286) .. (a-xyl.west);
\draw[sm] (y-accoa.north east) .. controls (430,585) and (540,585) .. (i-accoa.west);
\end{pgfonlayer}
\end{tikzpicture}
\end{document}
